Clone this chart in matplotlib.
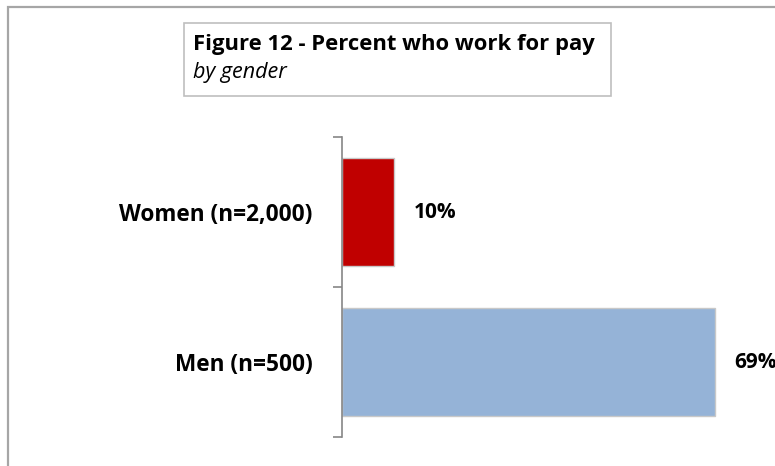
import matplotlib.pyplot as plt
from matplotlib.patches import Rectangle

categories = ["Men (n=500)", "Women (n=2,000)"]
values = [69, 9.6]
value_labels = ["69%", "10%"]
colors = ["#95B3D7", "#C00000"]

plt.rcParams['font.family'] = ['Open Sans', 'DejaVu Sans']

fig = plt.figure(figsize=(7.75, 4.66), dpi=100)
W, H = 775, 466

# outer chart frame (runs off the right/bottom edge)
fig.patches.append(Rectangle((7.5 / W, -0.1), 2.0, (H - 6.5) / H + 0.1,
                             transform=fig.transFigure, fill=False,
                             edgecolor="#a6a6a6", linewidth=1.6))

# title box
fig.patches.append(Rectangle((184 / W, (H - 96) / H), 427 / W, 73 / H,
                             transform=fig.transFigure, fill=False,
                             edgecolor="#bfbfbf", linewidth=1.2))
fig.text(193 / W, (H - 50) / H, "Figure 12 - Percent who work for pay",
         fontsize=15.8, fontweight="bold", va="baseline", ha="left")
fig.text(193 / W, (H - 78) / H, "by gender", fontsize=15.5,
         style="italic", va="baseline", ha="left")

xmax = 80
px_per_unit = 373 / 69
ax = fig.add_axes([342 / W, 29 / H, xmax * px_per_unit / W, 300 / H])
ypos = list(range(len(categories)))
ax.barh(ypos, values, height=0.72, color=colors, edgecolor="#c8c8c8",
        linewidth=1.0)
ax.set_xlim(0, xmax)
ax.set_ylim(-0.5, 1.5)

for y, v, lab in zip(ypos, values, value_labels):
    ax.annotate(lab, (v, y), xytext=(14, 0), textcoords="offset points",
                va="center", ha="left", fontsize=15, fontweight="bold",
                annotation_clip=False)

for s in ["top", "right", "bottom"]:
    ax.spines[s].set_visible(False)
ax.spines["left"].set_color("#868686")
ax.spines["left"].set_linewidth(1.2)
ax.set_xticks([])
ax.set_yticks([-0.5, 0.5, 1.5])
ax.set_yticklabels([])
ax.tick_params(axis="y", which="major", length=6.5, width=1.2, color="#868686")
ax.set_yticks(ypos, minor=True)
ax.set_yticklabels(categories, minor=True, fontsize=16.3, fontweight="bold")
ax.tick_params(axis="y", which="minor", length=0, pad=21)

fig.savefig("out.png", dpi=100)
